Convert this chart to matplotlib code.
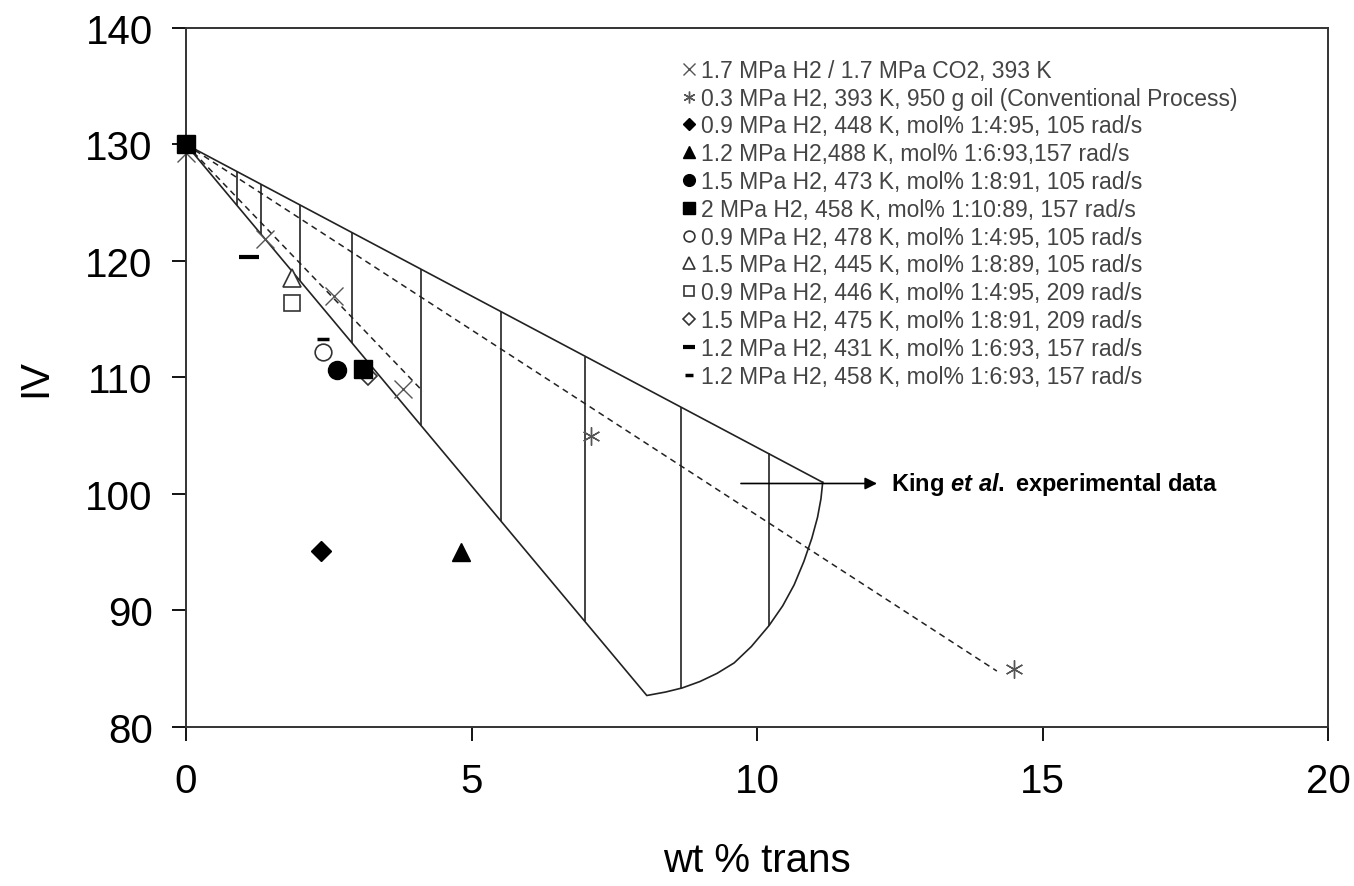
import numpy as np
import matplotlib
matplotlib.use('Agg')
import matplotlib.pyplot as plt

plt.rcParams['font.family'] = ['Liberation Sans', 'DejaVu Sans']
plt.rcParams['mathtext.fontset'] = 'custom'
plt.rcParams['mathtext.rm'] = 'Liberation Sans:bold'
plt.rcParams['mathtext.it'] = 'Liberation Sans:italic:bold'

# series (wt % trans, IV)
co2_x = [0.0, 1.38, 2.59, 3.8]
co2_y = [129.3, 121.9, 117.0, 109.0]
conv_x = [0.0, 7.09, 14.5]
conv_y = [130.0, 105.0, 85.0]
diamond_f = ([2.36], [95.1])
triangle_f = ([4.82], [95.0])
circle_f = ([2.64], [110.6])
square_f = ([0.0, 3.1], [130.0, 110.7])
circle_o = ([2.4], [112.2])
triangle_o = ([1.86], [118.5])
square_o = ([1.86], [116.4])
diamond_o = ([3.19], [110.1])
dash_long = ([1.1], [120.3])
dash_short = ([2.4], [113.3])

labels = [
    "1.7 MPa H2 / 1.7 MPa CO2, 393 K",
    "0.3 MPa H2, 393 K, 950 g oil (Conventional Process)",
    "0.9 MPa H2, 448 K, mol% 1:4:95, 105 rad/s",
    "1.2 MPa H2,488 K, mol% 1:6:93,157 rad/s",
    "1.5 MPa H2, 473 K, mol% 1:8:91, 105 rad/s",
    "2 MPa H2, 458 K, mol% 1:10:89, 157 rad/s",
    "0.9 MPa H2, 478 K, mol% 1:4:95, 105 rad/s",
    "1.5 MPa H2, 445 K, mol% 1:8:89, 105 rad/s",
    "0.9 MPa H2, 446 K, mol% 1:4:95, 209 rad/s",
    "1.5 MPa H2, 475 K, mol% 1:8:91, 209 rad/s",
    "1.2 MPa H2, 431 K, mol% 1:6:93, 157 rad/s",
    "1.2 MPa H2, 458 K, mol% 1:6:93, 157 rad/s",
]

# trend lines
co2_fit_x = [0.0, 4.15]
co2_fit_y = [130.0, 108.8]
conv_fit_x = [0.0, 14.2]
conv_fit_y = [130.0, 84.8]

# King et al. envelope
env_top_x = [0.0, 11.15]
env_top_y = [130.0, 101.0]
env_low_x = [0.0, 8.07, 8.4, 8.69, 9.0, 9.3, 9.6, 9.9, 10.21, 10.45,
             10.65, 10.82, 10.96, 11.06, 11.12, 11.15]
env_low_y = [130.0, 82.7, 83.0, 83.35, 83.9, 84.6, 85.5, 86.9, 88.7, 90.4,
             92.2, 94.2, 96.2, 98.0, 99.6, 101.0]
tie_x = [0.89, 1.31, 2.0, 2.91, 4.12, 5.52, 6.99, 8.67, 10.21]
tie_top = [127.7, 126.6, 124.8, 122.4, 119.3, 115.6, 111.8, 107.5, 103.5]
tie_bot = [124.8, 122.3, 118.3, 113.0, 105.9, 97.7, 89.1, 83.3, 88.7]

fig = plt.figure(figsize=(13.54, 8.87), dpi=100)
ax = fig.add_axes([0.1374, 0.1793, 0.8434, 0.788])

lc = '#222222'
ax.plot(env_top_x, env_top_y, color=lc, lw=1.2)
ax.plot(env_low_x, env_low_y, color=lc, lw=1.2)
ax.vlines(tie_x, tie_bot, tie_top, color=lc, lw=1.2)
ax.plot(conv_fit_x, conv_fit_y, color=lc, lw=1.1, ls=(0, (4, 3)))
ax.plot(co2_fit_x, co2_fit_y, color=lc, lw=1.1, ls=(0, (4, 3)))

ax.annotate('', xy=(12.15, 100.9), xytext=(9.67, 100.9),
            arrowprops=dict(arrowstyle='-|>', color='black', lw=1.2,
                            mutation_scale=18))
ax.text(12.35, 100.9, r'King $\it{et\ al.}$ experimental data', fontsize=17,
        fontweight='bold', va='center', ha='left')

gray = '#555555'
ms = 13
hs = []
hs.append(ax.plot(co2_x, co2_y, ls='none', marker='x', color=gray, ms=ms, mew=1.0, clip_on=False)[0])
hs.append(ax.plot(conv_x, conv_y, ls='none', marker=(6, 2, 0), color=gray, ms=ms, mew=1.0, clip_on=False)[0])
hs.append(ax.plot(*diamond_f, ls='none', marker='D', color='black', ms=10)[0])
hs.append(ax.plot(*triangle_f, ls='none', marker='^', color='black', ms=13)[0])
hs.append(ax.plot(*circle_f, ls='none', marker='o', color='black', ms=13)[0])
hs.append(ax.plot(*square_f, ls='none', marker='s', color='black', ms=13, clip_on=False, zorder=5)[0])
hs.append(ax.plot(*circle_o, ls='none', marker='o', mfc='white', mec='#333333', ms=12, mew=1.2)[0])
hs.append(ax.plot(*triangle_o, ls='none', marker='^', mfc='white', mec='#333333', ms=13, mew=1.2)[0])
hs.append(ax.plot(*square_o, ls='none', marker='s', mfc='white', mec='#333333', ms=12, mew=1.2)[0])
hs.append(ax.plot(*diamond_o, ls='none', marker='D', mfc='white', mec='#333333', ms=9, mew=1.2)[0])
hs.append(ax.plot(*dash_long, ls='none', marker='_', color='black', ms=14, mew=3)[0])
hs.append(ax.plot(*dash_short, ls='none', marker='_', color='black', ms=8, mew=2.5)[0])

leg = ax.legend(hs, labels, loc='upper left', bbox_to_anchor=(0.434, 0.956),
                frameon=False, fontsize=16.5, markerscale=0.65, handlelength=0.6,
                handletextpad=0.25, labelspacing=0.21, borderaxespad=0, borderpad=0)
for t in leg.get_texts():
    t.set_color('#444444')

ax.set_xlim(0, 20)
ax.set_ylim(80, 140)
ax.set_xticks([0, 5, 10, 15, 20])
ax.set_yticks([80, 90, 100, 110, 120, 130, 140])
ax.tick_params(axis='both', direction='out', length=10, width=1.3,
               labelsize=29, colors='black')
ax.tick_params(axis='x', pad=15)
ax.tick_params(axis='y', pad=14)
ax.tick_params(top=False, right=False)
for s in ax.spines.values():
    s.set_color('#333333')
    s.set_linewidth(1.4)

ax.set_xlabel('wt % trans', fontsize=29, labelpad=30)
ax.set_ylabel('IV', fontsize=29, labelpad=22)

fig.savefig('out.png', dpi=100)
